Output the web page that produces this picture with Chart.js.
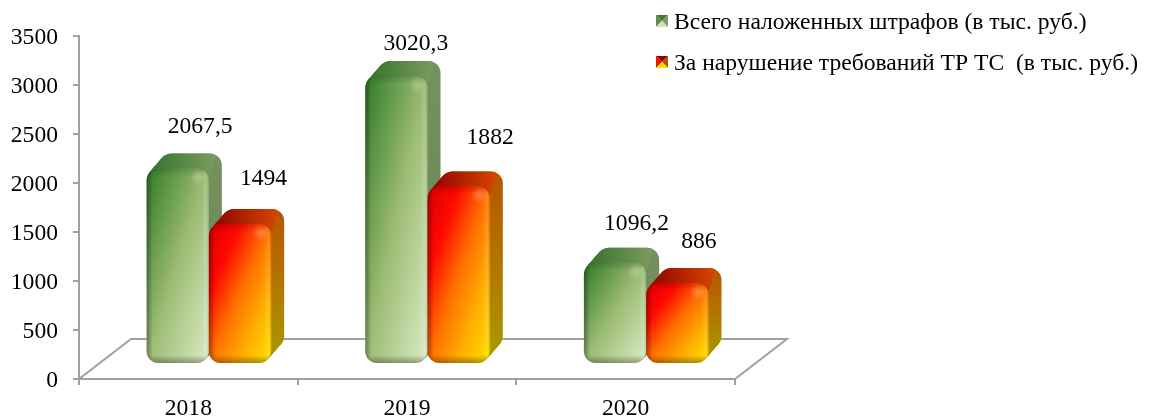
<!DOCTYPE html>
<html lang="ru">
<head>
<meta charset="utf-8">
<title>Штрафы</title>
<script src="https://cdn.jsdelivr.net/npm/chart.js@4/dist/chart.umd.min.js"></script>
<style>
  html, body { margin: 0; background: #fff; }
  canvas { display: block; }
</style>
</head>
<body>
<canvas id="finesChart" width="1149" height="416"></canvas>
<script>
const years = ["2018", "2019", "2020"];
const totalFines = [2067.5, 3020.3, 1096.2];
const tpTsFines = [1494, 1882, 886];
const seriesNames = [
  "Всего наложенных штрафов (в тыс. руб.)",
  "За нарушение требований ТР ТС  (в тыс. руб.)",
];
const yTicks = [0, 500, 1000, 1500, 2000, 2500, 3000, 3500];

const FONT = '"Liberation Serif"';
const TEXT_SIZE = 23.6;
const AXIS_COLOR = "#a0a0a0";

// 3D box look
const DEPTH_X = 13;
const DEPTH_Y = 15;
const FLOOR_X = 52;
const FLOOR_Y = 40;
const SHIFT_X = 20.5;
const PERSPECTIVE = 0.99;
const LIFT_BOTTOM = 16;
const LIFT_TOP = 10;
const RADIUS = 12;

const palettes = [
  {
    front: ["#2f7a25", "#9cbc73", "#dcecc8"],
    top: ["#33702a", "#80a064"],
    side: ["#76925c", "#64805a"],
    swatch: ["#3f7a30", "#5f8f4c", "#7f9670", "#cfe0ba"],
  },
  {
    front: ["#d80000", "#ff0800", "#ff7000", "#ffb000", "#ffe400"],
    top: ["#8a0000", "#dc4c00"],
    side: ["#b85400", "#ab9a00"],
    swatch: ["#8a0000", "#f01000", "#b85400", "#ffe000"],
  },
];

// data label nudges around the top of each box, [dx, dy] per dataset and year
const labelNudge = [
  [[16, -27], [13, -17], [15, -24]],
  [[17, -30], [25, -34], [15, -26]],
];

function formatValue(v) {
  return String(v).replace(".", ",");
}

function linear(ctx, x0, y0, x1, y1, colors) {
  const g = ctx.createLinearGradient(x0, y0, x1, y1);
  colors.forEach((c, i) => g.addColorStop(i / (colors.length - 1), c));
  return g;
}

// corner to corner gradient whose colour bands run along the other diagonal
function diagonal(ctx, x, y, w, h, colors) {
  const k = (2 * w * h) / (w * w + h * h);
  return linear(ctx, x, y, x + h * k, y + w * k, colors);
}

function roundBox(ctx, x, y, w, h) {
  ctx.beginPath();
  ctx.roundRect(x, y, w, h, RADIUS);
}

function drawBox(ctx, x, y, w, h, pal) {
  // silhouette of the extrusion, stacked from back to front
  const steps = 16;
  ctx.save();
  ctx.fillStyle = linear(ctx, 0, y - DEPTH_Y, 0, y + h, pal.side);
  for (let i = steps; i > 0; i--) {
    const t = i / steps;
    roundBox(ctx, x + DEPTH_X * t, y - DEPTH_Y * t, w, h);
    ctx.fill();
  }
  ctx.restore();

  // top face sits over the side colour
  ctx.save();
  ctx.beginPath();
  ctx.moveTo(x - 2, y + RADIUS);
  ctx.lineTo(x - 2, y - DEPTH_Y - 2);
  ctx.lineTo(x + w + DEPTH_X - 6, y - DEPTH_Y - 2);
  ctx.lineTo(x + w + 1, y + 6);
  ctx.closePath();
  ctx.clip();
  ctx.fillStyle = linear(ctx, x, 0, x + w + DEPTH_X, 0, pal.top);
  for (let i = steps; i > 0; i--) {
    const t = i / steps;
    roundBox(ctx, x + DEPTH_X * t, y - DEPTH_Y * t, w, h);
    ctx.fill();
  }
  ctx.restore();

  // front face with bevelled edges
  ctx.save();
  roundBox(ctx, x, y, w, h);
  ctx.fillStyle = diagonal(ctx, x, y, w, h, pal.front);
  ctx.fill();
  ctx.clip();

  const edgeX = ctx.createLinearGradient(x, 0, x + w, 0);
  edgeX.addColorStop(0, "rgba(0,0,0,0.32)");
  edgeX.addColorStop(0.1, "rgba(0,0,0,0)");
  edgeX.addColorStop(0.88, "rgba(255,255,255,0)");
  edgeX.addColorStop(0.96, "rgba(255,255,255,0.12)");
  edgeX.addColorStop(1, "rgba(0,0,0,0.1)");
  ctx.fillStyle = edgeX;
  ctx.fillRect(x, y, w, h);

  const edgeY = ctx.createLinearGradient(0, y, 0, y + h);
  const lip = Math.min(0.45, 8 / h);
  edgeY.addColorStop(0, "rgba(0,0,0,0.14)");
  edgeY.addColorStop(lip, "rgba(0,0,0,0)");
  edgeY.addColorStop(1 - lip, "rgba(0,0,0,0)");
  edgeY.addColorStop(1, "rgba(0,0,0,0.32)");
  ctx.fillStyle = edgeY;
  ctx.fillRect(x, y, w, h);

  const spotX = x + w - 11;
  const spotY = y + 9;
  const spot = ctx.createRadialGradient(spotX, spotY, 0, spotX, spotY, 8);
  spot.addColorStop(0, "rgba(255,255,255,0.26)");
  spot.addColorStop(1, "rgba(255,255,255,0)");
  ctx.fillStyle = spot;
  ctx.fillRect(spotX - 8, spotY - 8, 16, 16);
  ctx.restore();
}

// small pyramid: top, left, right and bottom triangles
function drawSwatch(ctx, x, y, size, pal) {
  const cx = x + size / 2;
  const cy = y + size / 2;
  const corners = [[x, y], [x + size, y], [x + size, y + size], [x, y + size]];
  const order = [[0, 1, 0], [3, 0, 1], [1, 2, 2], [2, 3, 3]];
  order.forEach(([a, b, c]) => {
    ctx.fillStyle = pal.swatch[c];
    ctx.beginPath();
    ctx.moveTo(cx, cy);
    ctx.lineTo(corners[a][0], corners[a][1]);
    ctx.lineTo(corners[b][0], corners[b][1]);
    ctx.closePath();
    ctx.fill();
  });
}

const boxes3d = {
  id: "boxes3d",
  beforeDatasetsDraw(chart) {
    const { ctx, chartArea } = chart;
    const floorY = chart.scales.y.getPixelForValue(0);
    // floor outline behind the boxes
    ctx.save();
    ctx.strokeStyle = AXIS_COLOR;
    ctx.lineWidth = 2;
    ctx.beginPath();
    ctx.moveTo(chartArea.left, floorY);
    ctx.lineTo(chartArea.left + FLOOR_X, floorY - FLOOR_Y);
    ctx.lineTo(chartArea.right + FLOOR_X, floorY - FLOOR_Y);
    ctx.lineTo(chartArea.right, floorY);
    ctx.stroke();
    ctx.restore();
  },
  afterDatasetsDraw(chart) {
    const { ctx } = chart;
    const base = chart.scales.y.getPixelForValue(0);
    const frontTop = (bar) => base - LIFT_TOP - (base - bar.y) * PERSPECTIVE;

    chart.data.datasets.forEach((ds, d) => {
      chart.getDatasetMeta(d).data.forEach((bar) => {
        const top = frontTop(bar);
        const left = bar.x - bar.width / 2 + SHIFT_X;
        drawBox(ctx, left, top, bar.width, base - LIFT_BOTTOM - top, palettes[d]);
      });
    });

    ctx.save();
    ctx.fillStyle = "#000";
    ctx.font = `${TEXT_SIZE}px ${FONT}`;
    ctx.textAlign = "center";
    ctx.textBaseline = "middle";
    chart.data.datasets.forEach((ds, d) => {
      chart.getDatasetMeta(d).data.forEach((bar, i) => {
        const backTop = frontTop(bar) - DEPTH_Y;
        const centre = bar.x + SHIFT_X + DEPTH_X / 2;
        const [dx, dy] = labelNudge[d][i];
        ctx.fillText(formatValue(ds.data[i]), centre + dx, backTop + dy);
      });
    });
    ctx.restore();
  },
  afterDraw(chart) {
    // legend, top right of the canvas
    const { ctx } = chart;
    ctx.save();
    ctx.font = `${TEXT_SIZE}px ${FONT}`;
    ctx.textAlign = "left";
    ctx.textBaseline = "alphabetic";
    chart.data.datasets.forEach((ds, d) => {
      const row = 29 + d * 41;
      drawSwatch(ctx, 656, row - 14, 12, palettes[d]);
      ctx.fillStyle = "#000";
      ctx.fillText(ds.label, 674, row);
    });
    ctx.restore();
  },
};

new Chart(document.getElementById("finesChart"), {
  type: "bar",
  data: {
    labels: years,
    datasets: [
      { label: seriesNames[0], data: totalFines, backgroundColor: "transparent" },
      { label: seriesNames[1], data: tpTsFines, backgroundColor: "transparent" },
    ],
  },
  options: {
    responsive: false,
    animation: false,
    layout: { padding: { top: 36, right: 414, bottom: 0, left: 0 } },
    datasets: { bar: { categoryPercentage: 0.57, barPercentage: 1 } },
    plugins: {
      legend: { display: false },
      tooltip: { enabled: false },
    },
    scales: {
      x: {
        afterFit: (scale) => { scale.height = 37; },
        border: { color: AXIS_COLOR, width: 2 },
        grid: { color: AXIS_COLOR, lineWidth: 2, drawOnChartArea: false, tickLength: 6 },
        ticks: { color: "#000", padding: 10, maxRotation: 0, font: { family: FONT, size: TEXT_SIZE } },
      },
      y: {
        min: 0,
        max: 3500,
        afterFit: (scale) => { scale.width = 79; },
        afterBuildTicks: (scale) => { scale.ticks = yTicks.map((value) => ({ value })); },
        border: { color: AXIS_COLOR, width: 2 },
        grid: { color: AXIS_COLOR, lineWidth: 2, drawOnChartArea: false, tickLength: 6 },
        ticks: {
          color: "#000",
          padding: 15,
          labelOffset: 2,
          font: { family: FONT, size: TEXT_SIZE },
          callback: (value) => String(value),
        },
      },
    },
  },
  plugins: [boxes3d],
});
</script>
</body>
</html>
